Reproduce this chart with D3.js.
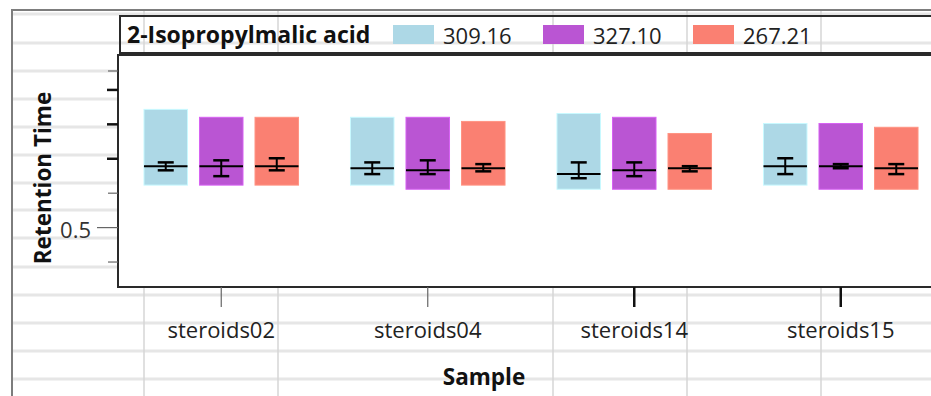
<!DOCTYPE html>
<html>
<head>
<meta charset="utf-8">
<script src="https://cdn.jsdelivr.net/npm/d3@7"></script>
<style>
  html, body { margin: 0; padding: 0; background: #fff; }
  svg { display: block; }
  text { font-family: "Open Sans", "Noto Sans", sans-serif; }
</style>
</head>
<body>
<svg id="chart" width="931" height="396"></svg>
<script>
// ---- data ----
const samples = ["steroids02", "steroids04", "steroids14", "steroids15"];
const series = ["309.16", "327.10", "267.21"];
const seriesColors = ["#ADD8E6", "#BA55D3", "#FA8072"];
const legendTitle = "2-Isopropylmalic acid";
// per series, per sample
const barTop    = [[0.842, 0.819, 0.830, 0.801], [0.819, 0.819, 0.819, 0.801], [0.819, 0.807, 0.772, 0.790]];
const barBottom = [[0.622, 0.622, 0.610, 0.622], [0.622, 0.610, 0.610, 0.610], [0.622, 0.622, 0.610, 0.610]];
const meanVal   = [[0.677, 0.671, 0.654, 0.677], [0.677, 0.665, 0.665, 0.677], [0.677, 0.671, 0.671, 0.671]];
const errHigh   = [[0.688, 0.688, 0.688, 0.700], [0.694, 0.694, 0.688, 0.683], [0.700, 0.683, 0.677, 0.683]];
const errLow    = [[0.665, 0.654, 0.642, 0.654], [0.648, 0.654, 0.648, 0.671], [0.665, 0.662, 0.662, 0.654]];
const yTickValues = [0.4, 0.5, 0.6, 0.7, 0.8, 0.9, 0.955];
const yMajorTicks = [0.7, 0.8, 0.9];
const yLabeledTicks = [0.5];
const xTitle = "Sample";
const yTitle = "Retention Time";

// ---- layout ----
const W = 931, H = 396;
const plot = { left: 118, top: 55, right: 944, bottom: 287 };
const svg = d3.select("#chart");

// background spreadsheet-like grid
const bg = svg.append("g");
const hLines = [14, 43, 71, 99, 127, 155, 183, 210, 238, 267, 295, 323, 351, 379];
const vLines = [144, 278, 553, 687, 821];
bg.selectAll("line.h").data(hLines).join("line")
  .attr("x1", 12).attr("x2", W).attr("y1", d => d).attr("y2", d => d)
  .attr("stroke", "#e6e6e6").attr("stroke-width", 3);
bg.selectAll("line.v").data(vLines).join("line")
  .attr("x1", d => d).attr("x2", d => d).attr("y1", 10).attr("y2", H)
  .attr("stroke", "#d6d6d6").attr("stroke-width", 1.5);
// outer frame
bg.append("path").attr("d", `M12,${H} V10 H${W}`)
  .attr("fill", "none").attr("stroke", "#7d7d7d").attr("stroke-width", 2);

// scales
const x0 = d3.scaleBand().domain(samples).range([plot.left, plot.right]).padding(0);
const x1 = d3.scaleBand().domain(series).range([0, x0.bandwidth()])
  .paddingInner(0.216).paddingOuter(0.468);
const y = d3.scaleLinear().domain([0.326, 1.0]).range([plot.bottom, plot.top]);

// plot area
svg.append("rect")
  .attr("x", plot.left).attr("y", plot.top)
  .attr("width", plot.right - plot.left).attr("height", plot.bottom - plot.top)
  .attr("fill", "#fff").attr("stroke", "#2a2a2a").attr("stroke-width", 2);

// bars
const rows = [];
series.forEach((s, si) => samples.forEach((c, ci) => rows.push({
  s, si, c, top: barTop[si][ci], bottom: barBottom[si][ci],
  mean: meanVal[si][ci], hi: errHigh[si][ci], lo: errLow[si][ci]
})));
const gBars = svg.append("g");
gBars.selectAll("rect").data(rows).join("rect")
  .attr("x", d => x0(d.c) + x1(d.s))
  .attr("width", x1.bandwidth())
  .attr("y", d => y(d.top))
  .attr("height", d => y(d.bottom) - y(d.top))
  .attr("fill", d => seriesColors[d.si])
  .attr("stroke", d => d3.color(seriesColors[d.si]).brighter(0.4))
  .attr("stroke-width", 1);

// mean line and error bars
const gErr = svg.append("g").attr("stroke", "#000").attr("fill", "none");
rows.forEach(d => {
  const bx = x0(d.c) + x1(d.s), bw = x1.bandwidth(), cx = bx + bw / 2, cap = 8;
  gErr.append("line").attr("x1", bx).attr("x2", bx + bw)
    .attr("y1", y(d.mean)).attr("y2", y(d.mean)).attr("stroke-width", 2);
  gErr.append("line").attr("x1", cx).attr("x2", cx)
    .attr("y1", y(d.hi)).attr("y2", y(d.lo)).attr("stroke-width", 2);
  [d.hi, d.lo].forEach(v => gErr.append("line")
    .attr("x1", cx - cap).attr("x2", cx + cap)
    .attr("y1", y(v)).attr("y2", y(v)).attr("stroke-width", 2.5));
});

// y axis
const yAxis = d3.axisLeft(y).tickValues(yTickValues)
  .tickSize(10).tickFormat(d => yLabeledTicks.includes(d) ? d3.format(".1f")(d) : "");
const gy = svg.append("g").attr("transform", `translate(${plot.left},0)`).call(yAxis);
gy.select(".domain").remove();
gy.selectAll(".tick line")
  .attr("stroke", d => yMajorTicks.includes(d) ? "#111" : "#666")
  .attr("stroke-width", d => yMajorTicks.includes(d) ? 2.5 : 1.2)
  .attr("x2", d => yLabeledTicks.includes(d) ? -21 : (yMajorTicks.includes(d) ? -11 : -10));
gy.selectAll(".tick text")
  .attr("x", -27).attr("dy", "0.45em")
  .attr("font-size", 22).attr("fill", "#333")
  .style("font-family", '"Open Sans", sans-serif');

// x axis
const xAxis = d3.axisBottom(x0).tickSize(20).tickPadding(15);
const gx = svg.append("g").attr("transform", `translate(0,${plot.bottom})`).call(xAxis);
gx.select(".domain").remove();
gx.selectAll(".tick line")
  .attr("stroke", (d, i) => i >= 2 ? "#111" : "#666")
  .attr("stroke-width", (d, i) => i >= 2 ? 2.5 : 1.2);
gx.selectAll(".tick text")
  .attr("font-size", 22).attr("fill", "#222")
  .style("font-family", '"Open Sans", sans-serif');

// axis titles
svg.append("text").attr("x", 484).attr("y", 385).attr("text-anchor", "middle")
  .attr("font-size", 22.5).attr("font-weight", "bold").attr("fill", "#111").text(xTitle);
svg.append("text").attr("transform", "translate(51,178) rotate(-90)")
  .attr("text-anchor", "middle")
  .attr("font-size", 22.5).attr("font-weight", "bold").attr("fill", "#111").text(yTitle);

// legend
const gL = svg.append("g");
gL.append("rect").attr("x", 120).attr("y", 16).attr("width", 830).attr("height", 37)
  .attr("fill", "none").attr("stroke", "#2a2a2a").attr("stroke-width", 2);
gL.append("text").attr("x", 127).attr("y", 43)
  .attr("font-size", 23).attr("font-weight", "bold").attr("fill", "#111").text(legendTitle);
const legX = d3.scalePoint().domain(series).range([393, 693]);
const items = gL.selectAll("g.item").data(series).join("g")
  .attr("transform", d => `translate(${legX(d)},0)`);
items.append("rect").attr("x", 0).attr("y", 25).attr("width", 41).attr("height", 19)
  .attr("fill", (d, i) => seriesColors[i]);
items.append("text").attr("x", 50).attr("y", 44)
  .attr("font-size", 22).attr("fill", "#222").text(d => d);
</script>
</body>
</html>
